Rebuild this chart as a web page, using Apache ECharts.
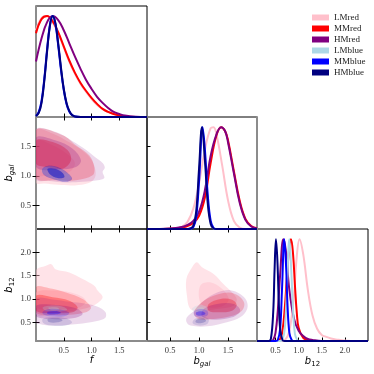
<!DOCTYPE html>
<html>
<head>
<meta charset="utf-8">
<script src="https://cdn.jsdelivr.net/npm/echarts@6/dist/echarts.min.js"></script>
<style>
html, body { margin: 0; padding: 0; background: #fff; }
#main { width: 374px; height: 374px; }
</style>
</head>
<body>
<div id="main"></div>
<script>
const samples = ['LMred', 'MMred', 'HMred', 'LMblue', 'MMblue', 'HMblue'];
const colors = ['#ffc0cb', '#ff0000', '#800080', '#add8e6', '#0000ff', '#000080'];
const fillAlpha = [[0.45, 0.5], [0.2, 0.3], [0.15, 0.22], [0.25, 0.3], [0.18, 0.35], [0.12, 0.2]];

const fRange = [0, 2.0];
const bgalRange = [0.1, 2.0];
const b12Range = [0.1, 2.5];
const fTicks = [0.5, 1.0, 1.5];
const bgalTicks = [0.5, 1.0, 1.5];
const b12Ticks = [0.5, 1.0, 1.5, 2.0];

// 1D marginals, peak = 1, order as samples
const pdfF = [
    [[0, 0.86], [0.1, 0.98], [0.2, 1.0], [0.3, 0.94], [0.4, 0.83], [0.5, 0.69], [0.6, 0.55], [0.7, 0.43], [0.8, 0.33], [0.9, 0.25], [1.0, 0.18], [1.1, 0.12], [1.2, 0.08], [1.3, 0.05], [1.4, 0.03], [1.5, 0.01], [1.6, 0.004], [1.8, 0], [2.0, 0]],
    [[0, 0.83], [0.1, 0.97], [0.2, 1.0], [0.3, 0.95], [0.4, 0.84], [0.5, 0.70], [0.6, 0.56], [0.7, 0.44], [0.8, 0.34], [0.9, 0.26], [1.0, 0.19], [1.1, 0.13], [1.2, 0.08], [1.3, 0.05], [1.4, 0.03], [1.5, 0.015], [1.6, 0.005], [1.8, 0], [2.0, 0]],
    [[0, 0.55], [0.1, 0.78], [0.2, 0.94], [0.3, 1.0], [0.4, 0.96], [0.5, 0.86], [0.6, 0.73], [0.7, 0.6], [0.8, 0.48], [0.9, 0.37], [1.0, 0.28], [1.1, 0.2], [1.2, 0.14], [1.3, 0.09], [1.4, 0.05], [1.5, 0.03], [1.6, 0.015], [1.8, 0.003], [2.0, 0]],
    [[0, 0.01], [0.05, 0.045], [0.1, 0.15], [0.15, 0.37], [0.2, 0.66], [0.25, 0.9], [0.3, 1.0], [0.35, 0.92], [0.4, 0.72], [0.45, 0.48], [0.5, 0.27], [0.55, 0.13], [0.6, 0.055], [0.65, 0.02], [0.7, 0.005], [0.8, 0], [2.0, 0]],
    [[0, 0.01], [0.05, 0.05], [0.1, 0.16], [0.15, 0.38], [0.2, 0.67], [0.25, 0.91], [0.3, 1.0], [0.35, 0.92], [0.4, 0.71], [0.45, 0.47], [0.5, 0.27], [0.55, 0.13], [0.6, 0.055], [0.65, 0.02], [0.7, 0.005], [0.8, 0], [2.0, 0]],
    [[0, 0.01], [0.05, 0.04], [0.1, 0.14], [0.15, 0.36], [0.2, 0.65], [0.25, 0.9], [0.3, 1.0], [0.35, 0.93], [0.4, 0.73], [0.45, 0.49], [0.5, 0.28], [0.55, 0.14], [0.6, 0.06], [0.65, 0.02], [0.7, 0.005], [0.8, 0], [2.0, 0]]
];
const pdfBgal = [
    [[0.1, 0], [0.6, 0.005], [0.7, 0.02], [0.8, 0.07], [0.9, 0.2], [1.0, 0.45], [1.1, 0.78], [1.2, 0.99], [1.25, 1.0], [1.3, 0.93], [1.4, 0.62], [1.5, 0.28], [1.6, 0.08], [1.7, 0.015], [1.8, 0], [2.0, 0]],
    [[0.1, 0], [0.6, 0.005], [0.7, 0.015], [0.8, 0.03], [0.9, 0.06], [1.0, 0.13], [1.1, 0.31], [1.2, 0.65], [1.3, 0.92], [1.38, 1.0], [1.45, 0.96], [1.5, 0.87], [1.6, 0.57], [1.7, 0.28], [1.8, 0.1], [1.9, 0.03], [2.0, 0.008]],
    [[0.1, 0], [0.5, 0.005], [0.7, 0.02], [0.8, 0.04], [0.9, 0.08], [1.0, 0.17], [1.1, 0.38], [1.2, 0.72], [1.3, 0.93], [1.38, 1.0], [1.45, 0.96], [1.5, 0.85], [1.6, 0.55], [1.7, 0.26], [1.8, 0.09], [1.9, 0.025], [2.0, 0.005]],
    [[0.1, 0], [0.8, 0], [0.85, 0.004], [0.9, 0.025], [0.95, 0.15], [1.0, 0.55], [1.055, 1.0], [1.1, 0.72], [1.15, 0.28], [1.2, 0.06], [1.25, 0.006], [1.3, 0], [2.0, 0]],
    [[0.1, 0], [0.8, 0], [0.85, 0.003], [0.9, 0.02], [0.95, 0.12], [1.0, 0.48], [1.06, 1.0], [1.1, 0.78], [1.15, 0.33], [1.2, 0.08], [1.25, 0.01], [1.3, 0], [2.0, 0]],
    [[0.1, 0], [0.8, 0], [0.85, 0.005], [0.9, 0.03], [0.95, 0.17], [1.0, 0.6], [1.05, 1.0], [1.1, 0.68], [1.15, 0.25], [1.2, 0.05], [1.25, 0.005], [1.3, 0], [2.0, 0]]
];
const pdfB12 = [
    [[0.1, 0], [0.6, 0], [0.7, 0.01], [0.8, 0.1], [0.9, 0.45], [0.95, 0.78], [1.02, 1.0], [1.1, 0.85], [1.2, 0.5], [1.3, 0.25], [1.4, 0.12], [1.5, 0.06], [1.6, 0.04], [1.7, 0.025], [1.8, 0.015], [1.9, 0.01], [2.0, 0.005], [2.2, 0], [2.5, 0]],
    [[0.1, 0], [0.5, 0], [0.6, 0.02], [0.65, 0.1], [0.7, 0.32], [0.75, 0.65], [0.8, 0.93], [0.835, 1.0], [0.88, 0.85], [0.92, 0.55], [0.96, 0.28], [1.0, 0.13], [1.1, 0.03], [1.2, 0.01], [1.3, 0], [2.5, 0]],
    [[0.1, 0], [0.4, 0], [0.45, 0.01], [0.5, 0.08], [0.55, 0.3], [0.6, 0.65], [0.67, 1.0], [0.72, 0.9], [0.8, 0.5], [0.9, 0.22], [1.0, 0.1], [1.1, 0.05], [1.2, 0.02], [1.3, 0.01], [1.5, 0], [2.5, 0]],
    [[0.1, 0], [0.6, 0], [0.65, 0.01], [0.7, 0.12], [0.75, 0.55], [0.8, 1.0], [0.84, 0.7], [0.88, 0.3], [0.92, 0.07], [0.97, 0.01], [1.0, 0], [2.5, 0]],
    [[0.1, 0], [0.5, 0], [0.55, 0.01], [0.6, 0.12], [0.64, 0.5], [0.69, 1.0], [0.73, 0.72], [0.76, 0.35], [0.8, 0.08], [0.85, 0.01], [0.9, 0], [2.5, 0]],
    [[0.1, 0], [0.35, 0], [0.4, 0.02], [0.45, 0.28], [0.48, 0.7], [0.51, 1.0], [0.54, 0.8], [0.57, 0.4], [0.6, 0.12], [0.65, 0.01], [0.7, 0], [2.5, 0]]
];

// 2D contours, each sample: [95% outline, 68% outline]
const contFBgal = [
    [[[0, 1.78], [0.3, 1.72], [0.6, 1.57], [0.85, 1.42], [1.0, 1.27], [1.07, 1.1], [1.06, 0.97], [0.95, 0.88], [0.7, 0.84], [0.4, 0.85], [0.15, 0.87], [0, 0.89]],
     [[0, 1.6], [0.3, 1.52], [0.55, 1.38], [0.7, 1.22], [0.62, 1.08], [0.4, 1.0], [0.15, 1.0], [0, 1.02]]],
    [[[0, 1.775], [0.48, 1.69], [0.72, 1.52], [0.96, 1.35], [1.05, 1.15], [1.02, 1.01], [0.72, 0.925], [0.36, 0.925], [0, 0.97]],
     [[0, 1.6], [0.3, 1.576], [0.57, 1.435], [0.63, 1.265], [0.48, 1.12], [0.18, 1.15], [0, 1.21]]],
    [[[0, 1.785], [0.36, 1.745], [0.66, 1.59], [0.9, 1.445], [1.08, 1.31], [1.2, 1.22], [1.24, 1.14], [1.2, 1.07], [1.23, 0.965], [1.11, 0.925], [0.84, 0.9], [0.54, 0.89], [0.24, 0.915], [0, 0.95]],
     [[0, 1.65], [0.36, 1.6], [0.66, 1.46], [0.81, 1.265], [0.72, 1.15], [0.42, 1.11], [0, 1.15]]],
    [[[0.1, 1.1], [0.2, 1.16], [0.38, 1.14], [0.56, 1.05], [0.63, 0.96], [0.53, 0.91], [0.33, 0.95], [0.15, 1.02]],
     [[0.22, 1.11], [0.34, 1.11], [0.47, 1.05], [0.5, 0.99], [0.39, 0.97], [0.26, 1.03]]],
    [[[0.11, 1.115], [0.21, 1.17], [0.39, 1.15], [0.57, 1.05], [0.65, 0.95], [0.54, 0.9], [0.33, 0.94], [0.15, 1.01]],
     [[0.21, 1.12], [0.35, 1.12], [0.48, 1.05], [0.51, 0.98], [0.39, 0.965], [0.25, 1.03]]],
    [[[0.108, 1.112], [0.21, 1.174], [0.39, 1.15], [0.57, 1.05], [0.65, 0.95], [0.54, 0.9], [0.33, 0.94], [0.15, 1.01]],
     [[0.21, 1.123], [0.35, 1.118], [0.48, 1.05], [0.51, 0.98], [0.39, 0.965], [0.25, 1.03]]]
];
const contFB12 = [
    [[[0, 1.607], [0.18, 1.714], [0.27, 1.75], [0.36, 1.63], [0.6, 1.57], [0.84, 1.43], [1.05, 1.286], [1.11, 1.18], [1.2, 1.036], [1.08, 0.89], [0.84, 0.786], [0.48, 0.714], [0, 0.68]],
     [[0, 1.14], [0.36, 1.18], [0.72, 1.107], [0.9, 0.964], [0.78, 0.82], [0.42, 0.786], [0, 0.82]]],
    [[[0, 1.25], [0.24, 1.23], [0.54, 1.14], [0.84, 1.0], [0.99, 0.82], [0.9, 0.714], [0.6, 0.66], [0.24, 0.66], [0, 0.714]],
     [[0, 1.07], [0.3, 1.036], [0.6, 0.964], [0.75, 0.82], [0.66, 0.714], [0.36, 0.7], [0, 0.75]]],
    [[[0, 1.0], [0.3, 0.99], [0.6, 0.94], [0.9, 0.9], [1.1, 0.84], [1.25, 0.72], [1.25, 0.6], [1.1, 0.53], [0.75, 0.465], [0.35, 0.43], [0.12, 0.45], [0, 0.5]],
     [[0, 0.857], [0.36, 0.87], [0.72, 0.8], [0.84, 0.68], [0.66, 0.586], [0.3, 0.57], [0, 0.63]]],
    [[[0.12, 0.82], [0.3, 0.86], [0.5, 0.83], [0.56, 0.77], [0.4, 0.73], [0.18, 0.75]],
     [[0.22, 0.81], [0.38, 0.82], [0.42, 0.78], [0.28, 0.76]]],
    [[[0.12, 0.729], [0.24, 0.786], [0.48, 0.764], [0.6, 0.7], [0.51, 0.629], [0.24, 0.629], [0.13, 0.671]],
     [[0.21, 0.729], [0.36, 0.743], [0.45, 0.707], [0.36, 0.671], [0.21, 0.679]]],
    [[[0.12, 0.571], [0.3, 0.614], [0.54, 0.586], [0.65, 0.5], [0.54, 0.43], [0.27, 0.43], [0.13, 0.486]],
     [[0.21, 0.571], [0.39, 0.586], [0.48, 0.543], [0.39, 0.5], [0.23, 0.507]]]
];
const contBgalB12 = [
    [[[0.96, 1.786], [1.05, 1.68], [1.25, 1.536], [1.42, 1.32], [1.57, 1.14], [1.65, 1.0], [1.6, 0.857], [1.31, 0.786], [1.02, 0.75], [0.85, 0.786], [0.79, 1.07], [0.78, 1.43], [0.88, 1.68]],
     [[1.02, 1.286], [1.19, 1.357], [1.4, 1.214], [1.51, 1.0], [1.42, 0.857], [1.17, 0.82], [1.02, 0.93]]],
    [[[0.91, 0.714], [1.05, 0.93], [1.25, 1.07], [1.51, 1.14], [1.68, 1.07], [1.78, 0.914], [1.74, 0.75], [1.54, 0.629], [1.25, 0.571], [0.99, 0.571]],
     [[1.165, 0.893], [1.37, 1.0], [1.57, 0.986], [1.65, 0.871], [1.57, 0.75], [1.34, 0.714], [1.165, 0.75]]],
    [[[0.79, 0.607], [0.91, 0.75], [1.08, 0.964], [1.31, 1.14], [1.54, 1.19], [1.71, 1.107], [1.82, 0.964], [1.83, 0.786], [1.71, 0.607], [1.48, 0.5], [1.14, 0.414], [0.85, 0.43], [0.78, 0.514]],
     [[1.08, 0.786], [1.31, 0.893], [1.6, 0.893], [1.71, 0.75], [1.57, 0.607], [1.25, 0.557], [1.05, 0.629]]],
    [[[0.88, 0.8], [1.0, 0.87], [1.12, 0.84], [1.14, 0.76], [1.02, 0.72], [0.9, 0.74]],
     [[0.95, 0.8], [1.05, 0.83], [1.09, 0.78], [1.0, 0.75]]],
    [[[0.91, 0.729], [1.02, 0.786], [1.14, 0.75], [1.15, 0.657], [1.05, 0.607], [0.93, 0.629]],
     [[0.95, 0.714], [1.05, 0.736], [1.11, 0.686], [1.02, 0.643], [0.95, 0.664]]],
    [[[0.91, 0.557], [1.05, 0.621], [1.165, 0.571], [1.14, 0.464], [0.99, 0.43], [0.89, 0.479]],
     [[0.95, 0.55], [1.07, 0.586], [1.12, 0.529], [1.02, 0.479], [0.94, 0.5]]]
];

(function() {
    const fVar = { range: fRange, ticks: fTicks, name: '{i|f}' };
    const bgalVar = { range: bgalRange, ticks: bgalTicks, name: '{i|b}{s|gal}' };
    const b12Var = { range: b12Range, ticks: b12Ticks, name: '{i|b}{n|12}' };
    const nameRich = {
        i: { fontFamily: 'DejaVu Sans', fontStyle: 'italic', fontSize: 10, color: '#000' },
        s: { fontFamily: 'DejaVu Sans', fontStyle: 'italic', fontSize: 7, color: '#000', padding: [6, 0, 0, 0] },
        n: { fontFamily: 'DejaVu Sans', fontSize: 7, color: '#000', padding: [6, 0, 0, 0] }
    };
    const grey = '#8c8c8c';

    let grid = [], xAxis = [], yAxis = [], series = [];

    function axis(g, pos, v, o) {
        o = o || {};
        let range = v ? v.range : [0, 1.1];
        return {
            gridIndex: g,
            type: 'value',
            position: pos,
            min: range[0],
            max: range[1],
            axisLine: { show: !!o.grey, lineStyle: { color: grey, width: 2 } },
            axisTick: {
                show: !!(v && o.ticks),
                inside: true,
                length: 3.5,
                customValues: v ? v.ticks : [],
                lineStyle: { color: '#000', width: 1 }
            },
            axisLabel: {
                show: !!o.labels,
                customValues: v ? v.ticks : [],
                formatter: function(x) { return x.toFixed(1); },
                fontFamily: 'Liberation Serif',
                fontSize: 8.5,
                color: '#333',
                margin: 5
            },
            splitLine: { show: false },
            name: o.labels && v ? v.name : '',
            nameLocation: 'middle',
            nameGap: pos === 'left' ? 20 : 14,
            nameRotate: pos === 'left' ? 90 : 0,
            nameTextStyle: { rich: nameRich }
        };
    }

    // p: box, xv, yv (row variable for ticks), pdf or contours
    function panel(p) {
        let g = grid.length;
        grid.push({
            left: p.box[0], top: p.box[1], width: p.box[2], height: p.box[3],
            show: true, borderColor: '#000', borderWidth: 1, backgroundColor: 'transparent'
        });
        let xb = xAxis.length;
        xAxis.push(axis(g, 'bottom', p.xv, { ticks: true, labels: p.xLabels, grey: p.greyBottom }));
        xAxis.push(axis(g, 'top', p.xv, { ticks: p.topTicks }));
        let yl = yAxis.length;
        yAxis.push(axis(g, 'left', p.yv, { ticks: true, labels: p.yLabels, grey: p.greyLeft }));
        yAxis.push(axis(g, 'right', p.yv, { ticks: p.rightTicks, grey: p.greyRight }));
        if (p.pdf) {
            let yh = yAxis.length;
            yAxis.push({ gridIndex: g, type: 'value', min: 0, max: 1.1, show: false });
            p.pdf.forEach(function(pts, s) {
                series.push({
                    name: samples[s],
                    type: 'line',
                    xAxisIndex: xb,
                    yAxisIndex: yh,
                    data: pts,
                    color: colors[s],
                    showSymbol: false,
                    smooth: 0.4,
                    clip: true,
                    silent: true,
                    lineStyle: { width: 2, color: colors[s] }
                });
            });
        }
        if (p.cont) {
            let items = [];
            p.cont.forEach(function(lv, s) {
                lv.forEach(function(poly, l) { items.push([s, l]); });
            });
            let cont = p.cont;
            series.push({
                type: 'custom',
                xAxisIndex: xb,
                yAxisIndex: yl,
                clip: true,
                silent: true,
                data: items,
                renderItem: function(params, api) {
                    let s = api.value(0), l = api.value(1);
                    let pts = cont[s][l].map(function(q) { return api.coord(q); });
                    return {
                        type: 'polygon',
                        shape: { points: pts, smooth: 0.35 },
                        style: { fill: colors[s], opacity: fillAlpha[s][l] }
                    };
                }
            });
        }
    }

    panel({ box: [36, 6, 111, 111], xv: fVar, yv: null, pdf: pdfF, greyLeft: true, greyBottom: true });
    panel({ box: [36, 117, 111, 112], xv: fVar, yv: bgalVar, cont: contFBgal, topTicks: true, rightTicks: true, yLabels: true, greyLeft: true });
    panel({ box: [147, 117, 110, 112], xv: bgalVar, yv: bgalVar, pdf: pdfBgal, greyRight: true });
    panel({ box: [36, 229, 111, 112], xv: fVar, yv: b12Var, cont: contFB12, topTicks: true, rightTicks: true, xLabels: true, yLabels: true, greyLeft: true, greyBottom: true });
    panel({ box: [147, 229, 110, 112], xv: bgalVar, yv: b12Var, cont: contBgalB12, topTicks: true, xLabels: true, greyRight: true });
    panel({ box: [257, 229, 111, 112], xv: b12Var, yv: b12Var, pdf: pdfB12, xLabels: true });

    let myChart = echarts.init(document.getElementById('main'), null, { renderer: 'canvas' });
    let option = {
        animation: false,
        backgroundColor: '#fff',
        legend: {
            orient: 'vertical',
            left: 307,
            top: 8,
            itemWidth: 17,
            itemHeight: 6,
            itemGap: 2,
            icon: 'rect',
            selectedMode: false,
            data: samples,
            textStyle: { fontFamily: 'Liberation Serif', fontSize: 9, color: '#222' }
        },
        grid: grid,
        xAxis: xAxis,
        yAxis: yAxis,
        series: series
    };
    myChart.setOption(option);
    window.addEventListener("resize", function() {
        myChart.resize();
    });
})();
</script>
</body>
</html>
